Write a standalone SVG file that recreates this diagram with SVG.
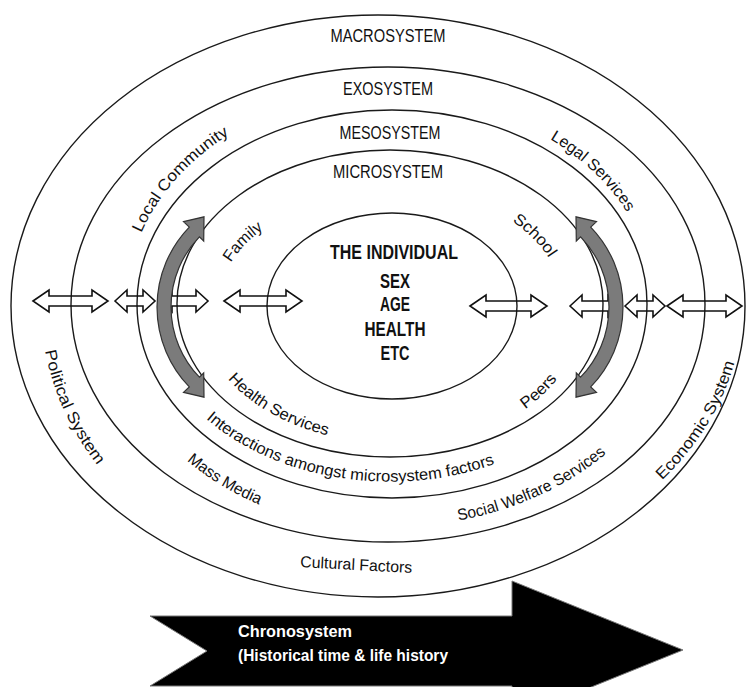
<svg xmlns="http://www.w3.org/2000/svg" width="749" height="687" viewBox="0 0 749 687">
<defs>
<style>
.ring{fill:none;stroke:#1a1a1a;stroke-width:1.4}
.hdr{font-family:"Liberation Sans",Arial,sans-serif;font-size:18px;fill:#111;text-anchor:middle}
.ind{font-family:"Liberation Sans",Arial,sans-serif;font-size:20px;font-weight:bold;fill:#111;text-anchor:middle}
.lbl{font-family:"Liberation Sans",Arial,sans-serif;font-size:16px;fill:#111}
.dbl{fill:none;stroke:#111;stroke-width:1.6;stroke-linejoin:miter}
.gray{fill:#7b7b7b;stroke:#333;stroke-width:1.2}
.chr{font-family:"Liberation Sans",Arial,sans-serif;font-size:16px;font-weight:bold;fill:#fff}
</style>
<path id="pLocal" d="M140,236 A264,214 0 0 1 232,133"/>
<path id="pLegal" d="M548,138 A262,207 0 0 1 628,214"/>
<path id="pFamily" d="M230,264 A172,111 0 0 1 265,228"/>
<path id="pSchool" d="M510,220 A173,117 0 0 1 550,260"/>
<path id="pHealth" d="M226,377 A193,139 0 0 0 330,436"/>
<path id="pInter" d="M202,415 A241,178 0 0 0 500,462"/>
<path id="pMass" d="M186,460 A292,223 0 0 0 260,505"/>
<path id="pSocial" d="M456,521 A292,223 0 0 0 608,452"/>
<path id="pPeers" d="M524,410 A195,146 0 0 0 558,378"/>
<path id="pPolit" d="M45,350 A347,293 0 0 0 98,466"/>
<path id="pEcon" d="M660,482 A357,277 0 0 0 735,360"/>
</defs>
<rect width="749" height="687" fill="#fff"/>

<g id="macrosystem">
<ellipse class="ring" cx="378" cy="306" rx="367" ry="291"/>
<text class="hdr" x="388" y="42" textLength="115" lengthAdjust="spacingAndGlyphs">MACROSYSTEM</text>
<text class="lbl" text-anchor="middle"><textPath href="#pPolit" startOffset="50%" textLength="127" lengthAdjust="spacingAndGlyphs">Political System</textPath></text>
<text class="lbl" text-anchor="middle"><textPath href="#pEcon" startOffset="50%" textLength="140" lengthAdjust="spacingAndGlyphs">Economic System</textPath></text>
<text class="lbl" x="356" y="570" text-anchor="middle" transform="rotate(3 356 570)" textLength="112" lengthAdjust="spacingAndGlyphs">Cultural Factors</text>
</g>

<g id="exosystem">
<ellipse class="ring" cx="388" cy="304.5" rx="317" ry="237.5"/>
<text class="hdr" x="388" y="95" textLength="90" lengthAdjust="spacingAndGlyphs">EXOSYSTEM</text>
<text class="lbl" text-anchor="middle"><textPath href="#pLocal" startOffset="50%" textLength="134" lengthAdjust="spacingAndGlyphs">Local Community</textPath></text>
<text class="lbl" text-anchor="middle"><textPath href="#pLegal" startOffset="50%" textLength="107" lengthAdjust="spacingAndGlyphs">Legal Services</textPath></text>
<text class="lbl" text-anchor="middle"><textPath href="#pMass" startOffset="50%" textLength="85" lengthAdjust="spacingAndGlyphs">Mass Media</textPath></text>
<text class="lbl" text-anchor="middle"><textPath href="#pSocial" startOffset="50%" textLength="164" lengthAdjust="spacingAndGlyphs">Social Welfare Services</textPath></text>
</g>

<g id="mesosystem">
<ellipse class="ring" cx="392" cy="304" rx="255" ry="194"/>
<text class="hdr" x="390" y="139" textLength="101" lengthAdjust="spacingAndGlyphs">MESOSYSTEM</text>
<text class="lbl" text-anchor="middle"><textPath href="#pInter" startOffset="50%" textLength="305" lengthAdjust="spacingAndGlyphs">Interactions amongst microsystem factors</textPath></text>
</g>

<g id="microsystem">
<ellipse class="ring" cx="390" cy="303.5" rx="213" ry="153.5"/>
<text class="hdr" x="388" y="178" textLength="110" lengthAdjust="spacingAndGlyphs">MICROSYSTEM</text>
<text class="lbl" text-anchor="middle"><textPath href="#pFamily" startOffset="50%" textLength="47" lengthAdjust="spacingAndGlyphs">Family</textPath></text>
<text class="lbl" text-anchor="middle"><textPath href="#pSchool" startOffset="50%" textLength="52" lengthAdjust="spacingAndGlyphs">School</textPath></text>
<text class="lbl" text-anchor="middle"><textPath href="#pHealth" startOffset="50%" textLength="116" lengthAdjust="spacingAndGlyphs">Health Services</textPath></text>
<text class="lbl" text-anchor="middle"><textPath href="#pPeers" startOffset="50%" textLength="44" lengthAdjust="spacingAndGlyphs">Peers</textPath></text>
</g>

<g id="individual">
<ellipse class="ring" cx="392" cy="306" rx="125" ry="93"/>
<text class="ind" x="394" y="259" textLength="128" lengthAdjust="spacingAndGlyphs">THE INDIVIDUAL</text>
<text class="ind" x="395" y="288" textLength="30" lengthAdjust="spacingAndGlyphs">SEX</text>
<text class="ind" x="395" y="311" textLength="30" lengthAdjust="spacingAndGlyphs">AGE</text>
<text class="ind" x="395" y="336" textLength="61" lengthAdjust="spacingAndGlyphs">HEALTH</text>
<text class="ind" x="395" y="360" textLength="29" lengthAdjust="spacingAndGlyphs">ETC</text>
</g>

<g id="connectors">
<path class="dbl" d="M33,301 L49,290 L49,296 L92,296 L92,290 L108,301 L92,312 L92,306 L49,306 L49,312 Z"/>
<path class="dbl" d="M115,301 L127,290 L127,296 L143,296 L143,290 L155,301 L143,312 L143,306 L127,306 L127,312 Z"/>
<path class="dbl" d="M160,301 L172,290 L172,296 L196,296 L196,290 L208,301 L196,312 L196,306 L172,306 L172,312 Z"/>
<path class="dbl" d="M224,301 L240,290 L240,296 L286,296 L286,290 L302,301 L286,312 L286,306 L240,306 L240,312 Z"/>
<path class="dbl" d="M470,306 L486,295 L486,301 L531,301 L531,295 L547,306 L531,317 L531,311 L486,311 L486,317 Z"/>
<path class="dbl" d="M570,306 L582,295 L582,301 L608,301 L608,295 L620,306 L608,317 L608,311 L582,311 L582,317 Z"/>
<path class="dbl" d="M625,306 L637,295 L637,301 L653,301 L653,295 L665,306 L653,317 L653,311 L637,311 L637,317 Z"/>
<path class="dbl" d="M667,306 L683,295 L683,301 L726,301 L726,295 L742,306 L726,317 L726,311 L683,311 L683,317 Z"/>
<path class="gray" d="M189.3,227.1 L183.5,221.6 L204,216.8 L203.7,241 L199.4,236.8 A101,101 0 0 0 199.4,377.2 L203.7,373 L204,397.2 L183.5,392.4 L189.3,386.9 A115,115 0 0 1 189.3,227.1 Z"/>
<path class="gray" d="M590.7,227.1 L596.5,221.6 L576,216.8 L576.3,241 L580.6,236.8 A101,101 0 0 1 580.6,377.2 L576.3,373 L576,397.2 L596.5,392.4 L590.7,386.9 A115,115 0 0 0 590.7,227.1 Z"/>
</g>

<g id="chronosystem">
<polygon points="150,616 512,616 512,581 683,650 512,719 512,686 150,686 207,651" fill="#000" stroke="#777" stroke-width="1"/>
<text class="chr" x="238" y="637" textLength="114" lengthAdjust="spacingAndGlyphs">Chronosystem</text>
<text class="chr" x="238" y="661" textLength="210" lengthAdjust="spacingAndGlyphs">(Historical time &amp; life history</text>
</g>
</svg>
